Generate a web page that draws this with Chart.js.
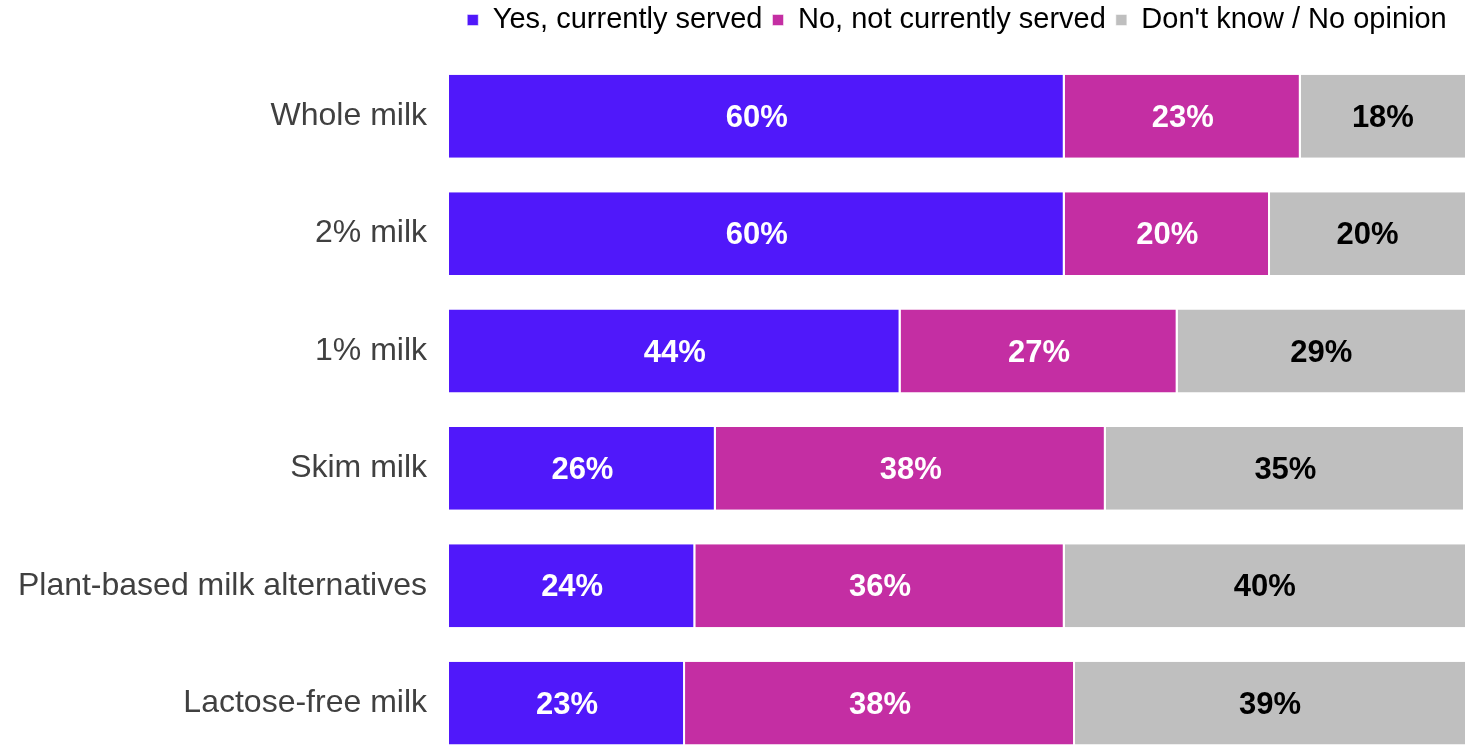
<!DOCTYPE html>
<html>
<head>
<meta charset="utf-8">
<script src="https://cdn.jsdelivr.net/npm/chart.js@4"></script>
<style>
  html, body { margin: 0; padding: 0; background: #fff; overflow: hidden; }
  canvas { display: block; }
</style>
</head>
<body>
<canvas id="chart" width="1465" height="803"></canvas>
<script>
const categories = ['Whole milk', '2% milk', '1% milk', 'Skim milk', 'Plant-based milk alternatives', 'Lactose-free milk'];
const seriesNames = ['Yes, currently served', 'No, not currently served', "Don't know / No opinion"];
const yesServed = [60, 60, 44, 26, 24, 23];
const notServed = [23, 20, 27, 38, 36, 38];
const dontKnow = [18, 20, 29, 35, 40, 39];

const colors = ['rgb(80, 24, 250)', 'rgb(196, 46, 163)', 'rgb(191, 191, 191)'];
const labelColors = ['#ffffff', '#ffffff', '#000000'];
const fontFamily = '"Liberation Sans", Arial, sans-serif';

// draws the % labels in the middle of the visible part of each segment
const barLabels = {
  id: 'barLabels',
  afterDatasetsDraw(chart) {
    const ctx = chart.ctx;
    const area = chart.chartArea;
    ctx.save();
    ctx.font = 'bold 31px ' + fontFamily;
    ctx.textAlign = 'center';
    ctx.textBaseline = 'middle';
    chart.data.datasets.forEach((ds, i) => {
      const meta = chart.getDatasetMeta(i);
      ctx.fillStyle = labelColors[i];
      meta.data.forEach((bar, j) => {
        const left = Math.max(Math.min(bar.x, bar.base), area.left);
        const right = Math.min(Math.max(bar.x, bar.base), area.right);
        ctx.fillText(ds.data[j] + '%', (left + right) / 2, bar.y + 2);
      });
    });
    ctx.restore();
  }
};

const values = [yesServed, notServed, dontKnow];

new Chart(document.getElementById('chart').getContext('2d'), {
  type: 'bar',
  data: {
    labels: categories,
    datasets: values.map((v, i) => ({
      label: seriesNames[i],
      data: v,
      backgroundColor: colors[i],
      borderColor: '#ffffff',
      borderWidth: { top: 0, bottom: 0, left: 0, right: 2 },
      borderSkipped: false,
      categoryPercentage: 1,
      barPercentage: 0.706,
      clip: 0,
    })),
  },
  options: {
    indexAxis: 'y',
    responsive: false,
    animation: false,
    layout: { padding: { left: 0, right: 0, top: -4.5, bottom: 0 } },
    scales: {
      // hidden value axis, kept at the top only as a gap under the legend
      x: {
        stacked: true,
        min: 0,
        max: 99,
        position: 'top',
        grid: { display: false, drawTicks: true, tickLength: 13 },
        border: { display: false },
        ticks: { display: false },
      },
      y: {
        stacked: true,
        grid: { display: false, drawTicks: false },
        border: { display: false },
        afterFit(scale) { scale.width = 449; },
        ticks: {
          color: '#404040',
          padding: 22,
          font: { family: fontFamily, size: 32 },
        },
      },
    },
    plugins: {
      legend: {
        position: 'top',
        fullSize: false,
        labels: {
          boxWidth: 11,
          boxHeight: 11,
          padding: 10,
          color: '#000000',
          font: { family: fontFamily, size: 29 },
        },
      },
      tooltip: { enabled: false },
    },
  },
  plugins: [barLabels],
});
</script>
</body>
</html>
